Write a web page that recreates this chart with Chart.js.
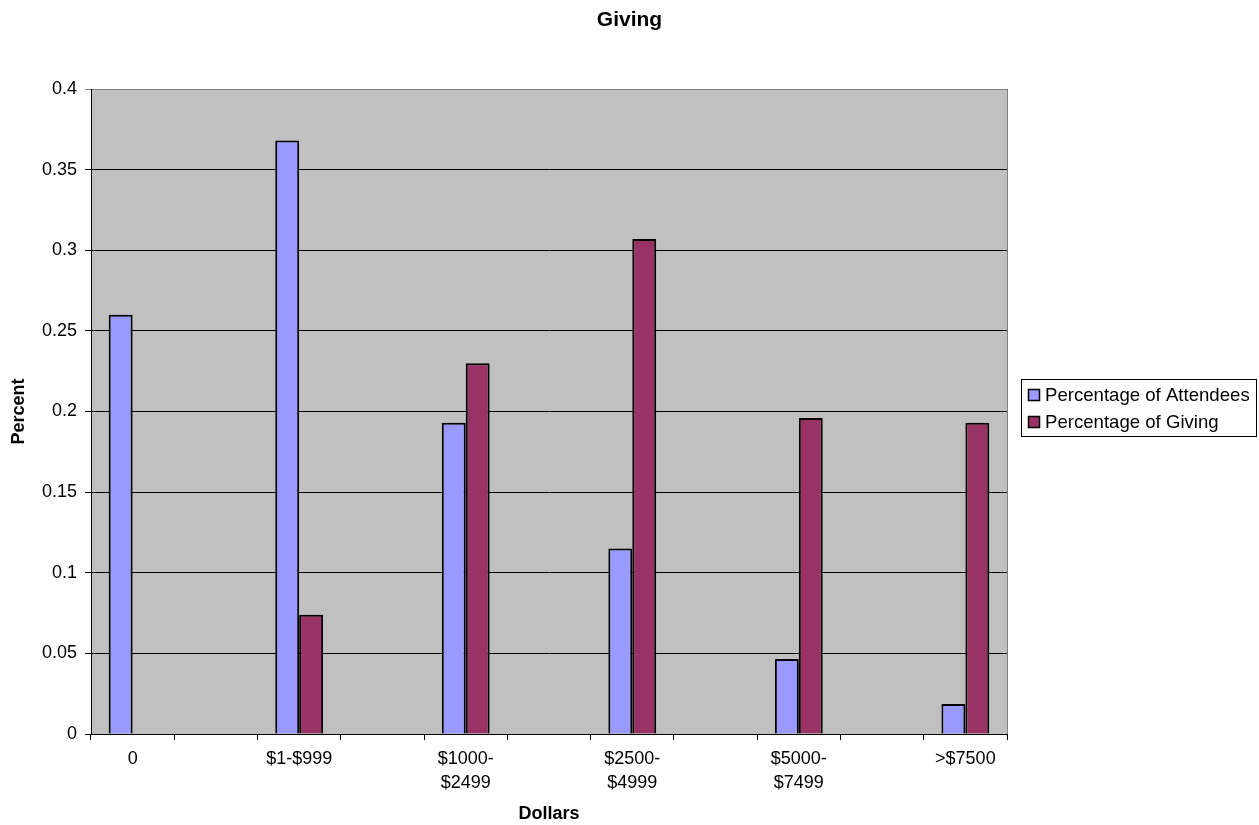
<!DOCTYPE html>
<html>
<head>
<meta charset="utf-8">
<script src="https://cdn.jsdelivr.net/npm/chart.js@4"></script>
<style>
  html, body { margin: 0; padding: 0; background: #fff; }
  #wrap { width: 1259px; height: 825px; }
</style>
</head>
<body>
<div id="wrap"><canvas id="c" width="1259" height="825"></canvas></div>
<script>
// ---- data ----
const chartTitle = "Giving";
const categories = ["0", "$1-$999", ["$1000-", "$2499"], ["$2500-", "$4999"], ["$5000-", "$7499"], ">$7500"];
const attendees = [0.26, 0.368, 0.193, 0.115, 0.0465, 0.0186];
const giving = [0, 0.074, 0.23, 0.307, 0.196, 0.193];
const seriesNames = ["Percentage of Attendees", "Percentage of Giving"];
const seriesColors = ["#9999FF", "#993366"];

// Excel layout: empty category slots between labelled ones
function spread(arr, blank) {
  const out = [];
  arr.forEach((v, i) => { if (i > 0) out.push(blank); out.push(v); });
  return out;
}
const labels = spread(categories, "");
const FONT = "'Liberation Sans', Arial, sans-serif";

const plotBg = {
  id: 'plotBg',
  beforeDraw(chart) {
    const {ctx, chartArea: a} = chart;
    ctx.save();
    ctx.fillStyle = '#fff';
    ctx.fillRect(0, 0, chart.width, chart.height);
    ctx.fillStyle = '#C0C0C0';
    ctx.fillRect(a.left, a.top, a.right - a.left, a.bottom - a.top);
    ctx.strokeStyle = '#808080';
    ctx.lineWidth = 1;
    ctx.strokeRect(Math.round(a.left) + 0.5, Math.round(a.top) + 0.5, Math.round(a.right - a.left), Math.round(a.bottom - a.top));
    ctx.restore();
  }
};

const pageTitle = {
  id: 'pageTitle',
  afterDraw(chart) {
    const ctx = chart.ctx;
    ctx.save();
    ctx.font = 'bold 21px ' + FONT;
    ctx.fillStyle = '#000';
    ctx.textAlign = 'center';
    ctx.textBaseline = 'middle';
    ctx.fillText(chartTitle, chart.width / 2, 20);
    ctx.restore();
  }
};

const boxLegend = {
  id: 'boxLegend',
  afterDraw(chart) {
    const ctx = chart.ctx;
    ctx.save();
    ctx.strokeStyle = '#000';
    ctx.lineWidth = 1;
    ctx.strokeRect(1021.5, 379.5, 235, 57);
    ctx.font = '18.6px ' + FONT;
    ctx.textBaseline = 'middle';
    chart.data.datasets.forEach((ds, i) => {
      const cy = 395 + i * 26.5;
      ctx.fillStyle = ds.backgroundColor;
      ctx.fillRect(1028, Math.round(cy - 6), 12, 12);
      ctx.strokeStyle = '#000';
      ctx.lineWidth = 1.5;
      ctx.strokeRect(1028.5, Math.round(cy - 6) + 0.5, 11, 11);
      ctx.fillStyle = '#000';
      ctx.fillText(ds.label, 1045, cy + 1);
    });
    ctx.restore();
  }
};

new Chart(document.getElementById('c'), {
  type: 'bar',
  data: {
    labels: labels,
    datasets: [
      { label: seriesNames[0], data: spread(attendees, null), backgroundColor: seriesColors[0], borderColor: '#000', borderWidth: 2 },
      { label: seriesNames[1], data: spread(giving, null), backgroundColor: seriesColors[1], borderColor: '#000', borderWidth: 2 }
    ]
  },
  options: {
    responsive: false,
    animation: false,
    devicePixelRatio: 1,
    layout: { padding: { left: 0, right: 252, top: 89, bottom: 0 } },
    datasets: { bar: { categoryPercentage: 0.575, barPercentage: 1.0 } },
    plugins: {
      legend: { display: false },
      tooltip: { enabled: false },
      title: { display: false }
    },
    scales: {
      x: {
        type: 'category',
        offset: true,
        grid: { offset: true, drawOnChartArea: false, drawTicks: true, tickLength: 6, color: '#000' },
        border: { display: true, color: '#000', width: 1 },
        ticks: { color: '#000', autoSkip: false, maxRotation: 0, minRotation: 0, padding: 8,
                 font: { family: FONT, size: 18, lineHeight: 1.28 } },
        title: { display: true, text: 'Dollars', color: '#000', padding: { top: 0, bottom: 0 },
                 font: { family: FONT, size: 18, weight: 'bold', lineHeight: 1.2 } },
        afterFit(scale) { scale.height = 91; }
      },
      y: {
        min: 0, max: 0.4,
        grid: { color: (c) => (c.tick && Math.abs(c.tick.value - 0.4) < 1e-9) ? '#808080' : '#000', tickLength: 6, lineWidth: 1 },
        border: { display: true, color: '#000', width: 1 },
        ticks: { stepSize: 0.05, color: '#000', padding: 8,
                 font: { family: FONT, size: 18 },
                 callback: (v) => String(+(+v).toFixed(2)) },
        title: { display: true, text: 'Percent', color: '#000', padding: { top: 8, bottom: 0 },
                 font: { family: FONT, size: 18, weight: 'bold', lineHeight: 1.2 } },
        afterFit(scale) { scale.width = 91; }
      }
    }
  },
  plugins: [plotBg, pageTitle, boxLegend]
});
</script>
</body>
</html>
